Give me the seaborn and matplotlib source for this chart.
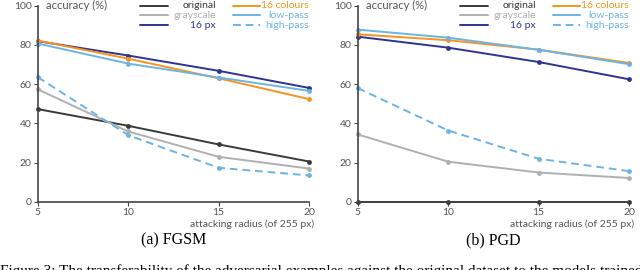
import matplotlib

matplotlib.use("Agg")
import matplotlib.pyplot as plt
import pandas as pd
import seaborn as sns

radius = [5, 10, 15, 20]
methods = ["original", "grayscale", "16 px", "16 colours", "low-pass", "high-pass"]

fgsm_original = [47.3, 38.8, 29.3, 20.6]
fgsm_grayscale = [57.4, 35.9, 23.0, 17.0]
fgsm_16px = [81.9, 74.6, 66.8, 58.1]
fgsm_16colours = [82.2, 73.0, 63.0, 52.4]
fgsm_lowpass = [80.7, 70.5, 63.4, 56.6]
fgsm_highpass = [63.6, 34.0, 17.4, 13.5]

pgd_original = [0.0, 0.0, 0.0, 0.0]
pgd_grayscale = [34.4, 20.5, 15.0, 12.2]
pgd_16px = [84.2, 78.6, 71.3, 62.5]
pgd_16colours = [85.4, 82.4, 77.6, 70.8]
pgd_lowpass = [87.8, 83.7, 77.5, 70.2]
pgd_highpass = [58.0, 36.4, 22.0, 15.7]

colors = {
    "original": "#3a3a3a",
    "grayscale": "#b0b0b0",
    "16 px": "#2e3590",
    "16 colours": "#f7931e",
    "low-pass": "#6cb4e4",
    "high-pass": "#6cb4e4",
}
dashes = {m: (4, 2.5) if m == "high-pass" else "" for m in methods}


def to_long(series):
    rows = []
    for m, vals in zip(methods, series):
        for r, v in zip(radius, vals):
            rows.append({"radius": r, "accuracy": v, "method": m})
    return pd.DataFrame(rows)


fgsm = to_long([fgsm_original, fgsm_grayscale, fgsm_16px, fgsm_16colours, fgsm_lowpass, fgsm_highpass])
pgd = to_long([pgd_original, pgd_grayscale, pgd_16px, pgd_16colours, pgd_lowpass, pgd_highpass])

sns.set_theme(style="white")
plt.rcParams["font.family"] = ["Lato", "DejaVu Sans"]

fig = plt.figure(figsize=(6.4, 2.7), dpi=100)
ax_a = fig.add_axes([0.059, 0.252, 0.424, 0.727])
ax_b = fig.add_axes([0.559, 0.252, 0.424, 0.727])

txt_col = "#555555"
for ax, df, cap in [(ax_a, fgsm, "(a) FGSM"), (ax_b, pgd, "(b) PGD")]:
    sns.lineplot(
        data=df, x="radius", y="accuracy", hue="method", style="method",
        hue_order=methods, style_order=methods, palette=colors, dashes=dashes,
        markers={m: "o" for m in methods}, markersize=3.5, markeredgewidth=0,
        linewidth=1.4, legend=False, ax=ax, clip_on=False,
    )
    ax.set_xlim(5, 20)
    ax.set_ylim(0, 100)
    ax.set_xticks(radius)
    ax.set_yticks([0, 20, 40, 60, 80, 100])
    ax.set_xlabel("")
    ax.set_ylabel("")
    for s in ["top", "right"]:
        ax.spines[s].set_visible(False)
    for s in ["left", "bottom"]:
        ax.spines[s].set_color("#444444")
        ax.spines[s].set_linewidth(1.2)
    ax.tick_params(axis="both", which="both", length=3, width=0.8, color="#444444",
                   labelsize=7.5, labelcolor=txt_col, pad=1.5, direction="out",
                   bottom=True, left=True)
    ax.text(0.03, 1.0, "accuracy (%)", transform=ax.transAxes, ha="left", va="center",
            fontsize=8, color=txt_col)
    ax.text(1.02, -0.112, "attacking radius (of 255 px)", transform=ax.transAxes,
            ha="right", va="center", fontsize=7.5, color=txt_col)
    ax.text(0.5, -0.196, cap, transform=ax.transAxes, ha="center", va="center",
            fontsize=11.5, family="Liberation Serif", color="black")

    # legend: two columns, labels right-aligned and coloured like the lines
    cols = [methods[:3], methods[3:]]
    x_handle = [(0.377, 0.480), (0.720, 0.819)]
    x_text = [0.657, 1.0]
    ys = [1.0, 0.951, 0.900]
    for ci, col in enumerate(cols):
        for ri, m in enumerate(col):
            ax.plot(x_handle[ci], [ys[ri], ys[ri]], transform=ax.transAxes,
                    color=colors[m], linewidth=1.4, clip_on=False,
                    dashes=(4, 2.5) if m == "high-pass" else (None, None))
            ax.text(x_text[ci], ys[ri], m, transform=ax.transAxes, ha="right",
                    va="center", fontsize=7.5, color=colors[m])

# the figure caption below is cut off by the bottom edge, as in the source image
fig.text(0.0, 0.022, "Figure 3: The transferability of the adversarial examples against the original dataset to the models trained with",
         ha="left", va="top", fontsize=11, family="Liberation Serif", color="black")

fig.savefig("out.png", dpi=100)
plt.close(fig)
